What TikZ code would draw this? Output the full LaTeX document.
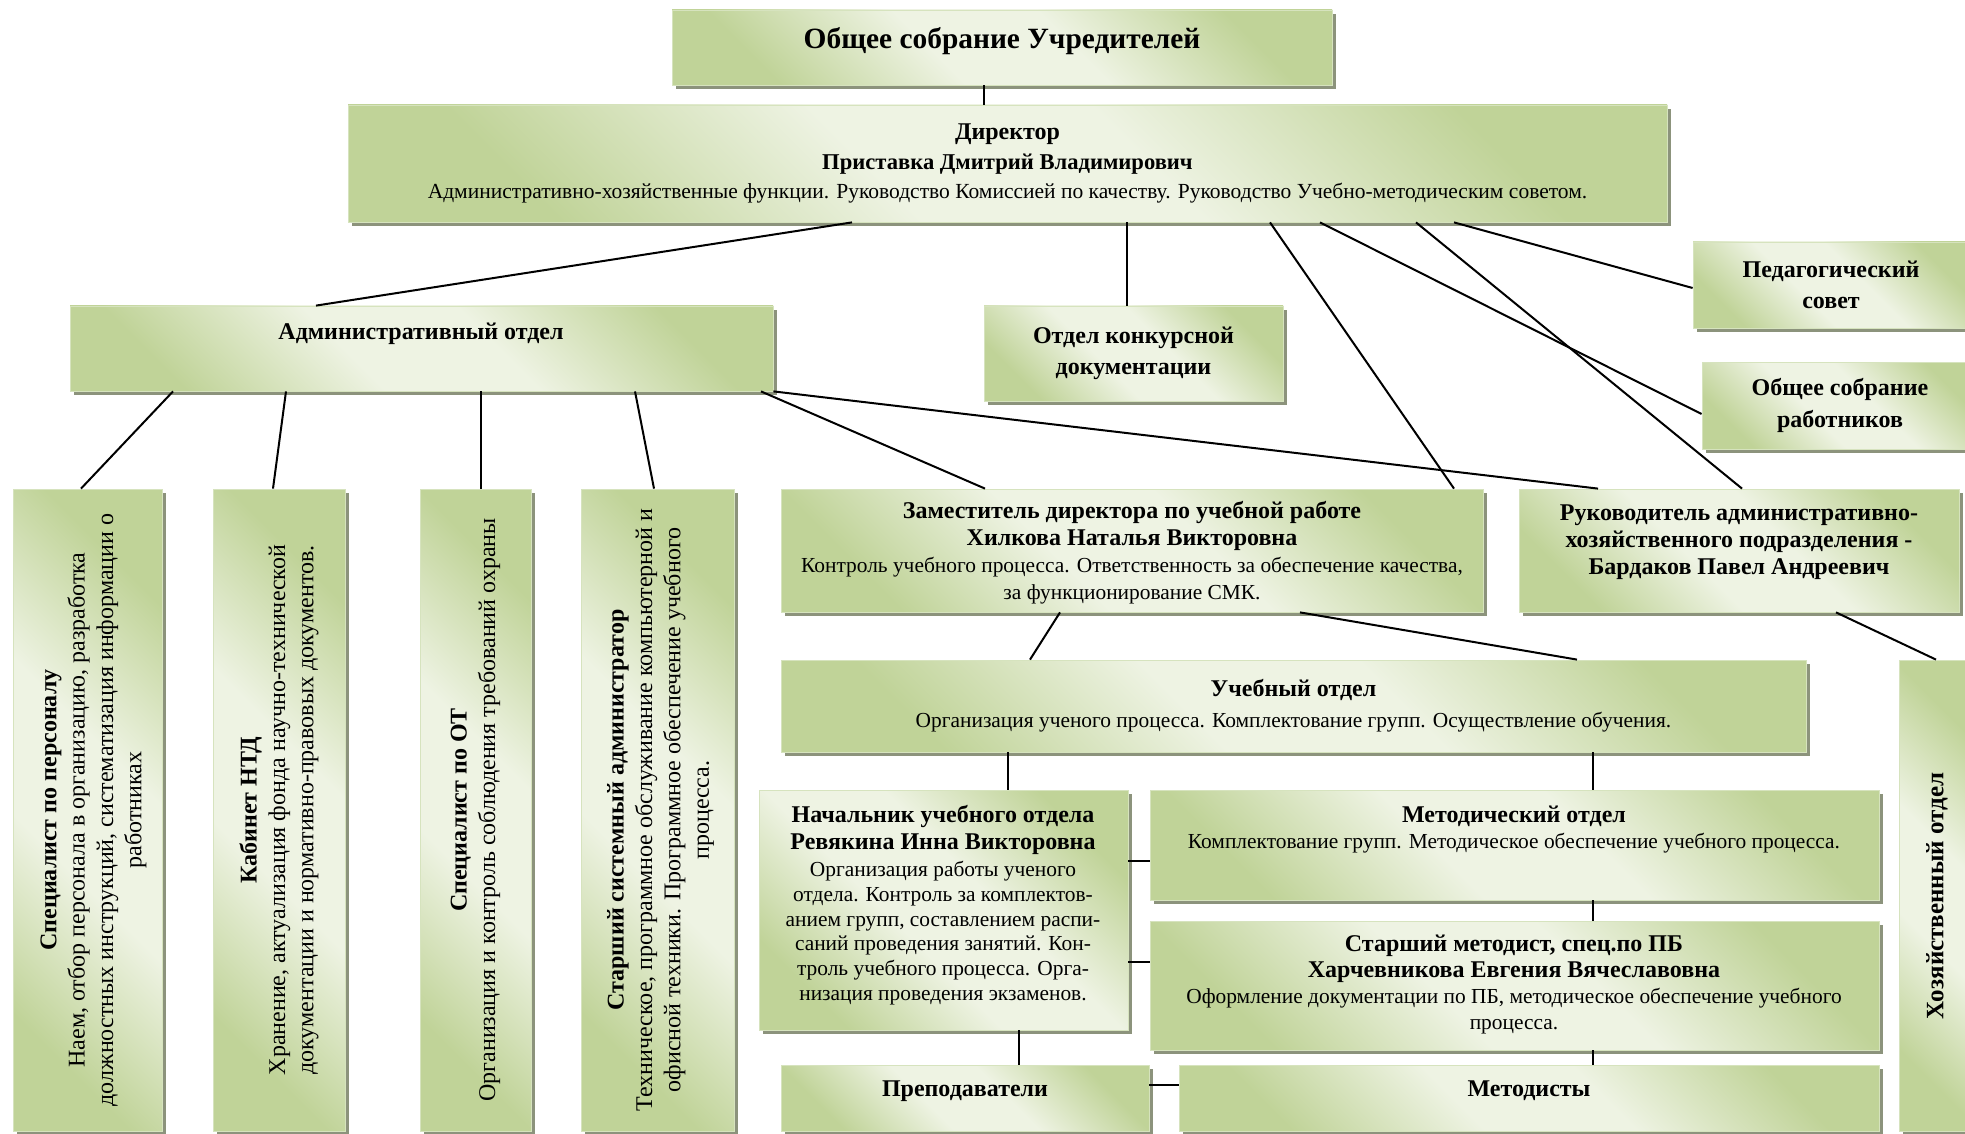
\documentclass[tikz,border=0pt]{standalone}
\usepackage{fontspec}
\setmainfont{Liberation Serif}
\usetikzlibrary{fit,calc,shadows}
\definecolor{gdark}{RGB}{192,211,152}
\definecolor{glight}{RGB}{238,243,227}
\definecolor{gedge}{RGB}{214,227,190}
\definecolor{gshadow}{RGB}{128,136,110}
\pgfdeclarehorizontalshading{boxgrad}{100bp}{color(0bp)=(gdark); color(25bp)=(gdark); color(43bp)=(glight); color(57bp)=(glight); color(75bp)=(gdark); color(100bp)=(gdark)}
\tikzset{
  obox/.style={draw=gedge, line width=0.4pt, shade, shading=boxgrad, shading angle=45,
    drop shadow={shadow xshift=2pt, shadow yshift=-2pt, fill=gshadow, opacity=0.9},
    inner sep=0pt},
  txt/.style={align=center, inner sep=0pt, text=black},
  conn/.style={line width=1pt, black},
  fvert/.style={font=\fontsize{12}{14.2}\selectfont, rotate=90}
}
\newcommand\obx[5]{\node[obox, fit={(#2,#3) (#4,#5)}] (#1) {};}
\newcommand\hb[1]{\textbf{\fontsize{12}{13.5}\selectfont #1}}
\begin{document}
\begin{tikzpicture}[x=0.5pt, y=-0.5pt]
\useasboundingbox (0,0) rectangle (1965,1134);
\fill[white] (0,0) rectangle (1965,1134);

% boxes
\obx{uchr}{672}{10}{1332}{85}
\obx{dir}{348}{105}{1667}{222}
\obx{adm}{70}{306}{773}{391}
\obx{konk}{984}{306}{1283}{401}
\obx{ped}{1693}{242}{1969}{328}
\obx{sobr}{1702}{362}{1978}{449}
\obx{spec}{13}{489}{162}{1131}
\obx{ntd}{213}{489}{345}{1131}
\obx{ot}{420}{489}{531}{1131}
\obx{sys}{581}{489}{734}{1131}
\obx{zam}{781}{489}{1483}{612}
\obx{ruk}{1519}{489}{1959}{612}
\obx{uch}{781}{660}{1806}{752}
\obx{nach}{759}{790}{1128}{1030}
\obx{met}{1150}{790}{1879}{900}
\obx{smet}{1150}{921}{1879}{1050}
\obx{prep}{781}{1065}{1149}{1131}
\obx{metd}{1179}{1065}{1879}{1131}
\obx{hoz}{1899}{660}{1975}{1131}

% texts
\node[txt, font=\fontsize{14.7}{17}\selectfont\bfseries] (uchr-t) at (1002,41) {Общее собрание Учредителей};
\node[txt, font=\fontsize{10.75}{14.8}\selectfont] (dir-t) at (dir.center) {\textbf{\fontsize{12}{14.8}\selectfont Директор}\\\textbf{\fontsize{11.3}{14.8}\selectfont Приставка Дмитрий Владимирович}\\Административно-хозяйственные функции. Руководство Комиссией по качеству. Руководство Учебно-методическим советом.};
\node[txt, font=\fontsize{12}{15}\selectfont\bfseries] (adm-t) at (421,334) {Административный отдел};
\node[txt, font=\fontsize{12}{15.6}\selectfont\bfseries] (konk-t) at (konk.center) {Отдел конкурсной\\документации};
\node[txt, font=\fontsize{12}{15.6}\selectfont\bfseries] (ped-t) at (ped.center) {Педагогический\\совет};
\node[txt, font=\fontsize{12}{15.6}\selectfont\bfseries] (sobr-t) at (sobr.center) {Общее собрание\\работников};

\node[txt, fvert] (spec-t) at ($(spec.center)+(6,0)$) {\textbf{Специалист по персоналу}\\Наем, отбор персонала в организацию, разработка\\должностных инструкций, систематизация информации о\\работниках};
\node[txt, fvert] (ntd-t) at (ntd.center) {\textbf{Кабинет НТД}\\Хранение, актуализация фонда научно-технической\\документации и нормативно-правовых документов.};
\node[txt, fvert] (ot-t) at (ot.center) {\textbf{Специалист по ОТ}\\Организация и контроль соблюдения требований охраны};
\node[txt, fvert] (sys-t) at ($(sys.center)+(3,0)$) {\textbf{Старший системный администратор}\\Техническое, программное обслуживание компьютерной и\\офисной техники. Программное обеспечение учебного\\процесса.};

\node[txt, font=\fontsize{10.7}{13.5}\selectfont] (zam-t) at (1132,553) {\hb{Заместитель директора по учебной работе}\\\hb{Хилкова Наталья Викторовна}\\Контроль учебного процесса. Ответственность за обеспечение качества,\\за функционирование СМК.};
\node[txt, font=\fontsize{12}{13.5}\selectfont\bfseries] (ruk-t) at (1739,542) {Руководитель административно-\\хозяйственного подразделения -\\Бардаков Павел Андреевич};
\node[txt, font=\fontsize{10.7}{15.5}\selectfont] (uch-t) at (uch.center) {\hb{Учебный отдел}\\Организация ученого процесса. Комплектование групп. Осуществление обучения.};
\node[txt, font=\fontsize{10.7}{12.4}\selectfont] (nach-t) at (943,905) {\hb{Начальник учебного отдела}\\[1.2pt]\hb{Ревякина Инна Викторовна}\\[1.2pt]Организация работы ученого\\отдела. Контроль за комплектов-\\анием групп, составлением распи-\\саний проведения занятий. Кон-\\троль учебного процесса. Орга-\\низация проведения экзаменов.};
\node[txt, font=\fontsize{10.7}{13}\selectfont] (met-t) at (1514,830) {\hb{Методический отдел}\\Комплектование групп. Методическое обеспечение учебного процесса.};
\node[txt, font=\fontsize{10.7}{13}\selectfont] (smet-t) at (1514,985) {\hb{Старший методист, спец.по ПБ}\\\hb{Харчевникова Евгения Вячеславовна}\\Оформление документации по ПБ, методическое обеспечение учебного\\процесса.};
\node[txt, font=\fontsize{12}{14}\selectfont\bfseries] (prep-t) at (965,1091) {Преподаватели};
\node[txt, font=\fontsize{12}{14}\selectfont\bfseries] (metd-t) at (1529,1091) {Методисты};
\node[txt, font=\fontsize{12.5}{14}\selectfont\bfseries, rotate=90] (hoz-t) at (1937,896) {Хозяйственный отдел};

% connectors
\draw[conn] (uchr.south -| 984,0) -- (dir.north -| 984,0);
\draw[conn] (dir.south -| 852,0) -- (adm.north -| 316,0);
\draw[conn] (dir.south -| 1127,0) -- (konk.north -| 1127,0);
\draw[conn] (dir.south -| 1270,0) -- (zam.north -| 1454,0);
\draw[conn] (dir.south -| 1320,0) -- (sobr.west |- 0,414);
\draw[conn] (dir.south -| 1416,0) -- (ruk.north -| 1742,0);
\draw[conn] (dir.south -| 1454,0) -- (ped.west |- 0,288);
\draw[conn] (adm.south -| 173,0) -- (spec.north -| 81,0);
\draw[conn] (adm.south -| 286,0) -- (ntd.north -| 273,0);
\draw[conn] (adm.south -| 481,0) -- (ot.north -| 481,0);
\draw[conn] (adm.south -| 635,0) -- (sys.north -| 654,0);
\draw[conn] (adm.south -| 761,0) -- (zam.north -| 985,0);
\draw[conn] (adm.south east) -- (ruk.north -| 1598,0);
\draw[conn] (zam.south -| 1060,0) -- (uch.north -| 1030,0);
\draw[conn] (zam.south -| 1300,0) -- (uch.north -| 1577,0);
\draw[conn] (ruk.south -| 1836,0) -- (hoz.north -| 1936,0);
\draw[conn] (uch.south -| 1008,0) -- (nach.north -| 1008,0);
\draw[conn] (uch.south -| 1593,0) -- (met.north -| 1593,0);
\draw[conn] (nach.east |- 0,861) -- (met.west |- 0,861);
\draw[conn] (nach.east |- 0,962) -- (smet.west |- 0,962);
\draw[conn] (met.south -| 1593,0) -- (smet.north -| 1593,0);
\draw[conn] (nach.south -| 1019,0) -- (prep.north -| 1019,0);
\draw[conn] (smet.south -| 1593,0) -- (metd.north -| 1593,0);
\draw[conn] (prep.east |- 0,1085) -- (metd.west |- 0,1085);
\end{tikzpicture}
\end{document}
